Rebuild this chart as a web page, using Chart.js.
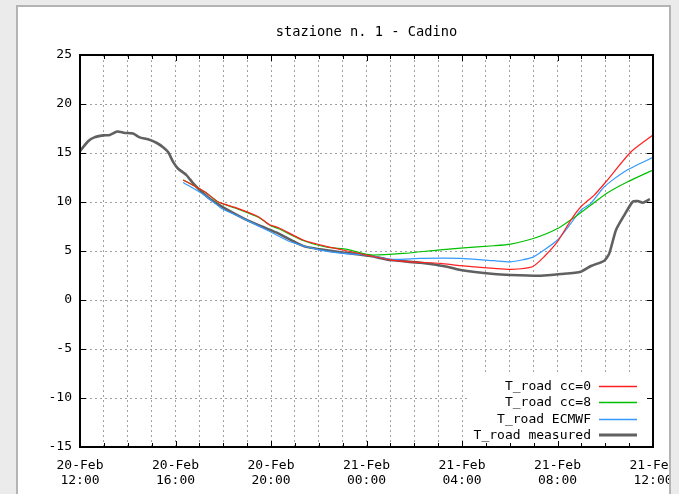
<!DOCTYPE html>
<html lang="it">
<head>
<meta charset="UTF-8">
<title>stazione n. 1 - Cadino</title>
<script src="https://cdn.jsdelivr.net/npm/chart.js"></script>
<style>
  html, body { margin: 0; padding: 0; overflow: hidden; background: #ebebeb; }
  #panel {
    position: absolute; left: 16px; top: 5px;
    width: 651px; height: 500px;
    border: 2px solid #b4b4b4; background: #fff; overflow: hidden;
  }
  #panel canvas { position: absolute; left: 0; top: 0; }
</style>
</head>
<body>
<div id="panel"><canvas id="chart" width="700" height="487"></canvas></div>
<script>
// ore dalle 12:00 del 20-Feb
const tickDays  = ['20-Feb', '20-Feb', '20-Feb', '21-Feb', '21-Feb', '21-Feb', '21-Feb'];
const tickTimes = ['12:00', '16:00', '20:00', '00:00', '04:00', '08:00', '12:00'];

const hoursMeasured = [0, 0.34, 0.6, 0.97, 1.25, 1.56, 1.87, 2.22, 2.5, 2.85, 3.2, 3.48, 3.69, 3.9, 4.11,
  4.46, 4.74, 5.09, 5.51, 6.07, 6.91, 7.61, 8.3, 9.37, 10.77, 12.17, 13.0, 14.27, 15.38, 15.94,
  17.34, 18.04, 19.3, 20.14, 20.98, 21.4, 21.96, 22.17, 22.45, 22.8, 23.15, 23.36, 23.57, 23.87];
const measured = [15.2, 16.2, 16.6, 16.8, 16.85, 17.2, 17.05, 17.0, 16.6, 16.4, 16.05, 15.6, 15.1, 14.1, 13.4,
  12.75, 11.9, 11.05, 10.2, 9.35, 8.25, 7.5, 6.8, 5.5, 4.93, 4.49, 4.08, 3.8, 3.4, 3.06,
  2.65, 2.55, 2.48, 2.65, 2.89, 3.47, 4.01, 4.76, 7.14, 8.67, 10.03, 10.1, 9.93, 10.3];

const hoursCc0 = [4.32, 5.22, 5.79, 6.49, 7.47, 7.97, 8.3, 9.37, 10.35, 11.2, 12.17, 13.0, 13.85, 15.1,
  15.94, 17.34, 18.04, 18.95, 19.44, 20.0, 20.56, 20.98, 21.54, 22.03, 23.08, 24.0];
const cc0 = [12.25, 11.05, 10.0, 9.45, 8.5, 7.65, 7.4, 6.1, 5.45, 5.0, 4.5, 4.1, 3.9, 3.74,
  3.5, 3.23, 3.13, 3.4, 4.42, 5.95, 8.16, 9.52, 10.71, 12.07, 15.13, 16.84];

const hoursCc8 = [4.32, 5.22, 5.79, 6.49, 7.47, 7.97, 8.3, 9.37, 10.35, 11.19, 12.17, 13.57, 14.97,
  15.94, 17.34, 18.04, 19.02, 20.0, 20.84, 21.4, 22.1, 22.94, 24.0];
const cc8 = [12.25, 11.05, 10.0, 9.4, 8.45, 7.6, 7.3, 6.05, 5.4, 5.17, 4.6, 4.76, 5.1,
  5.3, 5.54, 5.71, 6.3, 7.3, 8.67, 9.7, 10.95, 12.07, 13.27];

const hoursEcmwf = [4.32, 5.22, 5.93, 6.63, 7.97, 8.81, 10.07, 11.05, 12.0, 13.01, 14.27, 15.94,
  17.34, 18.04, 18.95, 19.44, 20.0, 20.56, 20.98, 21.4, 21.96, 22.8, 24.0];
const ecmwf = [12.0, 10.7, 9.35, 8.57, 6.97, 5.95, 5.1, 4.76, 4.6, 4.15, 4.25, 4.25,
  4.01, 3.9, 4.35, 5.1, 6.12, 7.82, 9.18, 9.86, 11.56, 13.1, 14.56];

const FONT = {family: "'DejaVu Sans Mono', 'Liberation Mono', monospace", size: 13, lineHeight: 1.15};

function pts(xs, ys) {
  return xs.map((x, i) => ({x: x, y: ys[i]}));
}

// legenda stile gnuplot (in basso a destra, dentro il grafico) + bordo e tacche interne
const gnuplotFrame = {
  id: 'gnuplotFrame',
  afterDatasetsDraw(chart) {
    const ctx = chart.ctx;
    const a = chart.chartArea;
    const sets = chart.data.datasets;

    // riquadro legenda
    ctx.save();
    ctx.fillStyle = '#fff';
    ctx.fillRect(a.right - 183, a.bottom - 72, 183, 72);
    ctx.font = '13px ' + FONT.family;
    ctx.textAlign = 'right';
    ctx.textBaseline = 'middle';
    sets.forEach((ds, i) => {
      const y = Math.round(a.bottom - 12 - (sets.length - 1 - i) * 16.5);
      ctx.fillStyle = '#000';
      ctx.fillText(ds.label, a.right - 62, y + 1);
      ctx.strokeStyle = ds.borderColor;
      ctx.lineWidth = ds.borderWidth < 2 ? 1.5 : 3;
      ctx.beginPath();
      ctx.moveTo(a.right - 54, y + (ds.borderWidth < 2 ? 0.5 : 0));
      ctx.lineTo(a.right - 16, y + (ds.borderWidth < 2 ? 0.5 : 0));
      ctx.stroke();
    });

    // tacche interne
    const xs = chart.scales.x, ys = chart.scales.y;
    ctx.strokeStyle = '#000';
    ctx.lineWidth = 1;
    ctx.beginPath();
    xs.ticks.forEach(t => {
      const px = Math.round(xs.getPixelForValue(t.value)) + 0.5;
      const len = t.value % 4 === 0 ? 6 : 4;
      ctx.moveTo(px, a.bottom); ctx.lineTo(px, a.bottom - len);
      ctx.moveTo(px, a.top); ctx.lineTo(px, a.top + len);
    });
    ys.ticks.forEach(t => {
      const py = Math.round(ys.getPixelForValue(t.value)) + 0.5;
      ctx.moveTo(a.left, py); ctx.lineTo(a.left + 6, py);
      ctx.moveTo(a.right, py); ctx.lineTo(a.right - 6, py);
    });
    ctx.stroke();

    // bordo
    ctx.lineWidth = 2;
    ctx.strokeRect(Math.round(a.left), Math.round(a.top), Math.round(a.right - a.left), Math.round(a.bottom - a.top));
    ctx.restore();
  }
};

new Chart(document.getElementById('chart'), {
  type: 'line',
  data: {
    datasets: [
      {label: 'T_road cc=0', data: pts(hoursCc0, cc0), borderColor: '#ff2020', borderWidth: 1.2},
      {label: 'T_road cc=8', data: pts(hoursCc8, cc8), borderColor: '#00c000', borderWidth: 1.2},
      {label: 'T_road ECMWF', data: pts(hoursEcmwf, ecmwf), borderColor: '#3399ff', borderWidth: 1.2},
      {label: 'T_road measured', data: pts(hoursMeasured, measured), borderColor: '#606060', borderWidth: 2.6}
    ]
  },
  options: {
    responsive: false,
    animation: false,
    parsing: false,
    elements: {point: {radius: 0}, line: {tension: 0.2, fill: false}},
    layout: {padding: {left: 0, right: 65, top: 0, bottom: 0}},
    plugins: {
      legend: {display: false},
      tooltip: {enabled: false},
      title: {
        display: true,
        fullSize: false,   // centrato sull'area del grafico
        text: 'stazione n. 1 - Cadino',
        color: '#000',
        font: {family: FONT.family, size: 13.7, weight: 'normal', lineHeight: 1.2},
        padding: {top: 17, bottom: 14.6}
      }
    },
    scales: {
      x: {
        type: 'linear',
        min: 0, max: 24,
        afterFit(s) { s.height = 47; },
        grid: {color: '#a0a0a0', lineWidth: 1, drawTicks: false},
        border: {display: false, dash: [2, 3]},
        ticks: {
          stepSize: 1, maxTicksLimit: 30, autoSkip: false, maxRotation: 0,
          padding: 11, color: '#000', font: FONT,
          callback: v => (v % 4 === 0 ? [tickDays[v / 4], tickTimes[v / 4]] : '')
        }
      },
      y: {
        min: -15, max: 25,
        afterFit(s) { s.width = 62; },
        grid: {color: '#a0a0a0', lineWidth: 1, drawTicks: false},
        border: {display: false, dash: [2, 3]},
        ticks: {stepSize: 5, padding: 8, color: '#000', font: FONT}
      }
    }
  },
  plugins: [gnuplotFrame]
});
</script>
</body>
</html>
